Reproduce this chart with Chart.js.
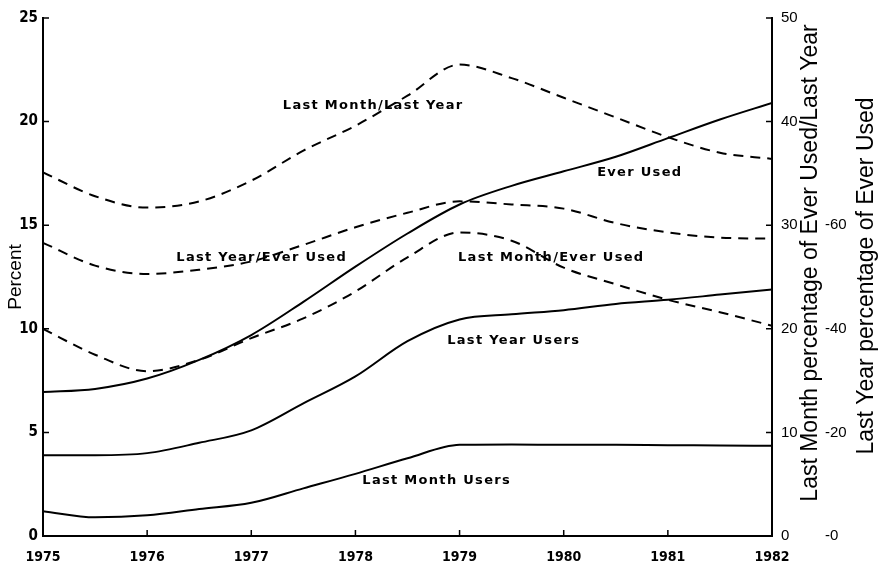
<!DOCTYPE html>
<html>
<head>
<meta charset="utf-8">
<script src="https://cdn.jsdelivr.net/npm/chart.js@4"></script>
<style>
  html, body { margin: 0; background: #fff; }
  #wrap { width: 885px; height: 565px; }
</style>
</head>
<body>
<div id="wrap"><canvas id="chart"></canvas></div>
<script>
// survey years, half-year steps
const years = [1975, 1975.5, 1976, 1976.5, 1977, 1977.5, 1978, 1978.5, 1979, 1979.5, 1980, 1980.5, 1981, 1981.5, 1982];

// percent of population (left axis)
const everUsed       = [6.95, 7.1, 7.6, 8.5, 9.7, 11.3, 13.0, 14.6, 16.0, 16.9, 17.6, 18.3, 19.2, 20.1, 20.9];
const lastYearUsers  = [3.9, 3.9, 4.0, 4.5, 5.1, 6.4, 7.7, 9.4, 10.45, 10.7, 10.9, 11.2, 11.4, 11.65, 11.9];
const lastMonthUsers = [1.2, 0.9, 1.0, 1.3, 1.6, 2.3, 3.0, 3.75, 4.4, 4.42, 4.4, 4.4, 4.38, 4.37, 4.35];

// ratios (right axis)
const monthPerYear = [35.1, 32.8, 31.7, 32.3, 34.3, 37.2, 39.6, 42.5, 45.5, 44.2, 42.3, 40.4, 38.5, 37.0, 36.4];
const yearPerEver  = [28.3, 26.1, 25.3, 25.7, 26.5, 28.1, 29.8, 31.2, 32.3, 32.0, 31.6, 30.2, 29.3, 28.8, 28.7];
const monthPerEver = [20.0, 17.5, 15.9, 17.0, 19.1, 21.0, 23.6, 26.9, 29.3, 28.5, 25.9, 24.3, 22.8, 21.6, 20.3];

// curve labels: text, year, left-axis value
const noteText  = ["Last Month/Last Year", "Ever Used", "Last Year/Ever Used", "Last Month/Ever Used", "Last Year Users", "Last Month Users"];
const noteYear  = [1978.17, 1980.73, 1977.1, 1979.88, 1979.52, 1978.78];
const noteValue = [20.75, 17.53, 13.43, 13.43, 9.41, 2.65];

const pts = (arr) => years.map((t, i) => ({ x: t, y: arr[i] }));

function line(label, arr, axis, dashed) {
  return {
    label: label,
    data: pts(arr),
    yAxisID: axis,
    borderColor: "#000",
    borderWidth: 2,
    borderDash: dashed ? [10, 7] : [],
    pointRadius: 0,
    cubicInterpolationMode: "monotone",
    fill: false,
  };
}

// tick marks point inward, labels and right-hand titles
const extras = {
  id: "extras",
  afterDraw(chart) {
    const c = chart.ctx;
    const a = chart.chartArea;
    const x = chart.scales.x, y = chart.scales.y, y1 = chart.scales.y1;
    c.save();
    c.strokeStyle = "#000";
    c.lineWidth = 1.5;
    c.beginPath();
    x.ticks.forEach((t) => {
      const px = x.getPixelForValue(t.value);
      c.moveTo(px, a.bottom); c.lineTo(px, a.bottom - 6);
    });
    y.ticks.forEach((t) => {
      const py = y.getPixelForValue(t.value);
      c.moveTo(a.left, py); c.lineTo(a.left + 6, py);
    });
    y1.ticks.forEach((t) => {
      const py = y1.getPixelForValue(t.value);
      c.moveTo(a.right, py); c.lineTo(a.right - 6, py);
    });
    c.stroke();

    c.fillStyle = "#000";
    c.font = "bold 13px 'DejaVu Sans'";
    c.letterSpacing = "1.3px";
    c.textAlign = "center";
    c.textBaseline = "middle";
    noteText.forEach((t, i) => {
      c.fillText(t, x.getPixelForValue(noteYear[i]), y.getPixelForValue(noteValue[i]));
    });
    c.letterSpacing = "0px";

    // right-hand axis titles, read bottom to top
    c.font = "23px 'Liberation Sans'";
    c.save();
    c.translate(811, 263);
    c.rotate(-Math.PI / 2);
    c.fillText("Last Month percentage of Ever Used/Last Year", 0, 0);
    c.restore();
    c.save();
    c.translate(867, 276);
    c.rotate(-Math.PI / 2);
    c.fillText("Last Year percentage of Ever Used", 0, 0);
    c.restore();
    c.restore();
  },
};

const noGrid = { display: false, drawTicks: false };

const ctx = document.getElementById("chart").getContext("2d");
const myChart = new Chart(ctx, {
  type: "line",
  data: {
    datasets: [
      line("Ever Used", everUsed, "y", false),
      line("Last Year Users", lastYearUsers, "y", false),
      line("Last Month Users", lastMonthUsers, "y", false),
      line("Last Month/Last Year", monthPerYear, "y1", true),
      line("Last Year/Ever Used", yearPerEver, "y1", true),
      line("Last Month/Ever Used", monthPerEver, "y1", true),
    ],
  },
  options: {
    responsive: true,
    maintainAspectRatio: false,
    animation: false,
    devicePixelRatio: 1,
    layout: { padding: { top: 3, left: 0, right: 0, bottom: 0 } },
    plugins: { legend: { display: false }, tooltip: { enabled: false } },
    scales: {
      x: {
        type: "linear",
        min: 1975,
        max: 1982,
        afterFit: (s) => { s.height = 29; },
        ticks: {
          stepSize: 1,
          padding: 13,
          color: "#000",
          font: { family: "'DejaVu Sans Condensed'", weight: "bold", size: 14 },
          callback: (v) => String(v),
        },
        grid: noGrid,
        border: { color: "#000", width: 2 },
      },
      y: {
        position: "left",
        min: 0,
        max: 25,
        afterFit: (s) => { s.width = 43; },
        ticks: {
          stepSize: 5,
          padding: 5,
          color: "#000",
          font: { family: "'DejaVu Sans Condensed'", weight: "bold", size: 15 },
        },
        title: {
          display: true,
          text: "Percent",
          color: "#000",
          padding: { top: 4, bottom: 0 },
          font: { family: "'Liberation Sans'", size: 19 },
        },
        grid: noGrid,
        border: { color: "#000", width: 2 },
      },
      y1: {
        position: "right",
        min: 0,
        max: 50,
        afterFit: (s) => { s.width = 45; },
        ticks: {
          stepSize: 10,
          padding: 9,
          color: "#000",
          font: { family: "'Liberation Sans'", size: 15 },
        },
        grid: noGrid,
        border: { color: "#000", width: 2 },
      },
      y2: {
        position: "right",
        min: 0,
        max: 100,
        afterFit: (s) => { s.width = 68; },
        ticks: {
          stepSize: 20,
          padding: 8,
          color: "#000",
          font: { family: "'Liberation Sans'", size: 15 },
          callback: (v) => (v <= 60 ? "-" + v : ""),
        },
        grid: noGrid,
        border: { display: false },
      },
    },
  },
  plugins: [extras],
});
</script>
</body>
</html>
